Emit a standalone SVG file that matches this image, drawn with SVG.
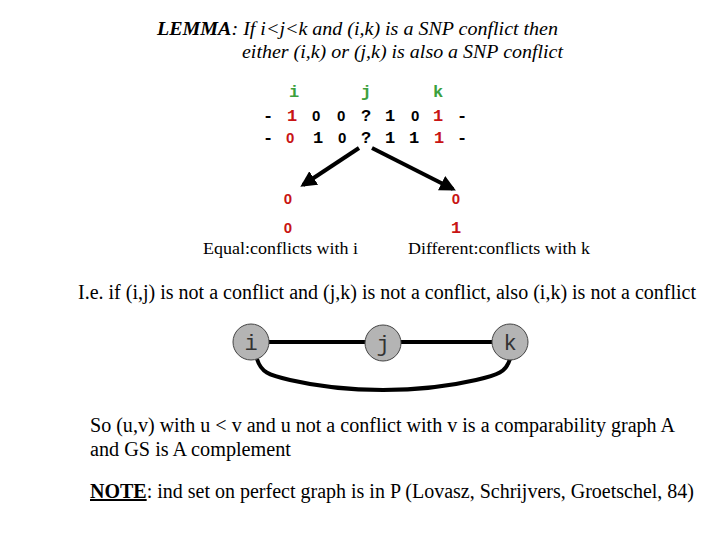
<svg xmlns="http://www.w3.org/2000/svg" width="720" height="540" viewBox="0 0 720 540">
<style>
.serif{font-family:"Liberation Serif","Times New Roman",serif;fill:#000}
.it{font-style:italic;font-size:18px}
.body{font-size:20px}
.lbl{font-size:17px}
.mono{font-family:"Liberation Mono","Courier New",monospace;font-size:17px;font-weight:bold}
.z{font-family:"Liberation Sans",Arial,sans-serif;font-size:15px;font-weight:bold}
.g{fill:#3ca03c}
.r{fill:#c81414}
.k{fill:#000}
.node text{font-family:"Liberation Mono","Courier New",monospace;font-size:22px;fill:#333;text-anchor:middle}
.edge{stroke:#000;stroke-width:4;fill:none}
.arr{stroke:#000;stroke-width:4;fill:none}
</style>
<defs>
<marker id="ah" viewBox="0 0 10 10" refX="8" refY="5" markerWidth="4" markerHeight="4" orient="auto" markerUnits="strokeWidth">
<path d="M0,0 L10,5 L0,10 z" fill="#000"/>
</marker>
</defs>
<rect width="720" height="540" fill="#fff"/>

<g id="title">
<text class="serif it" x="157" y="35" textLength="401" lengthAdjust="spacingAndGlyphs"><tspan font-weight="bold">LEMMA</tspan>: If i&lt;j&lt;k and (i,k) is a SNP conflict then</text>
<text class="serif it" x="242" y="58" textLength="321" lengthAdjust="spacingAndGlyphs">either (i,k) or (j,k) is also a SNP conflict</text>
</g>

<g id="matrix">
<text class="mono g" y="97"><tspan x="289">i</tspan> <tspan x="361">j</tspan> <tspan x="433">k</tspan></text>
<text class="mono k" y="121" xml:space="preserve"><tspan x="263">-</tspan><tspan x="287" class="r">1</tspan><tspan x="312" class="z">0</tspan><tspan x="337" class="z">0</tspan><tspan x="361">?</tspan><tspan x="385">1</tspan><tspan x="411" class="z">0</tspan><tspan x="433" class="r">1</tspan><tspan x="457">-</tspan></text>
<text class="mono k" y="143" xml:space="preserve"><tspan x="263">-</tspan><tspan x="286" class="z r">0</tspan><tspan x="313">1</tspan><tspan x="338" class="z">0</tspan><tspan x="361">?</tspan><tspan x="385">1</tspan><tspan x="409">1</tspan><tspan x="434" class="r">1</tspan><tspan x="457">-</tspan></text>
</g>

<g id="connectors">
<line class="arr" x1="359" y1="148" x2="303" y2="185" marker-end="url(#ah)"/>
<line class="arr" x1="372" y1="148" x2="453" y2="189" marker-end="url(#ah)"/>
<line class="edge" x1="269" y1="342" x2="366" y2="342"/>
<line class="edge" x1="401" y1="342" x2="492" y2="342"/>
<path class="edge" d="M257,359 C261,372 268,375 290,380 C320,387 350,390 383,390 C416,390 446,387 476,380 C498,375 506,372 510,359"/>
</g>

<g id="left-branch">
<text class="z r" x="288" y="204" text-anchor="middle">0</text>
<text class="z r" x="288" y="233" text-anchor="middle">0</text>
<text class="serif lbl" x="203" y="254" textLength="155" lengthAdjust="spacingAndGlyphs">Equal:conflicts with i</text>
</g>

<g id="right-branch">
<text class="z r" x="456" y="204" text-anchor="middle">0</text>
<text class="mono r" x="456" y="233" text-anchor="middle">1</text>
<text class="serif lbl" x="408" y="254" textLength="182" lengthAdjust="spacingAndGlyphs">Different:conflicts with k</text>
</g>

<text class="serif body" x="78" y="299" textLength="618" lengthAdjust="spacingAndGlyphs">I.e. if (i,j) is not a conflict and (j,k) is not a conflict, also (i,k) is not a conflict</text>

<g id="node-i" class="node"><ellipse cx="251" cy="342" rx="18" ry="18" fill="#b4b4b4" stroke="#444"/><text x="251" y="350">i</text></g>
<g id="node-j" class="node"><ellipse cx="383" cy="343" rx="18" ry="18" fill="#b4b4b4" stroke="#444"/><text x="383" y="351">j</text></g>
<g id="node-k" class="node"><ellipse cx="510" cy="342" rx="18" ry="18" fill="#b4b4b4" stroke="#444"/><text x="510" y="350">k</text></g>

<g id="notes">
<text class="serif body" x="90" y="432" textLength="585" lengthAdjust="spacingAndGlyphs">So (u,v) with u &lt; v and u not a conflict with v is a comparability graph A</text>
<text class="serif body" x="90" y="456" textLength="201" lengthAdjust="spacingAndGlyphs">and GS is A complement</text>
<text class="serif body" x="90" y="498" textLength="604" lengthAdjust="spacingAndGlyphs"><tspan font-weight="bold" text-decoration="underline">NOTE</tspan>: ind set on perfect graph is in P (Lovasz, Schrijvers, Groetschel, 84)</text>
</g>
</svg>
